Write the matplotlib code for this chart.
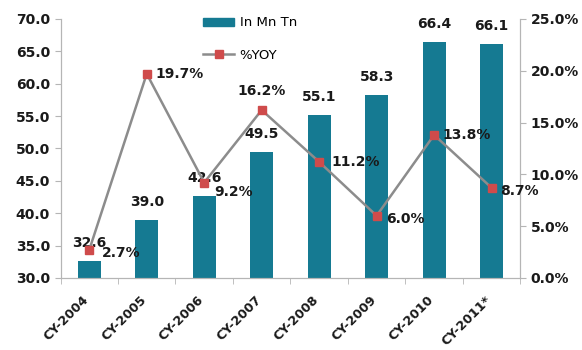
import matplotlib.pyplot as plt
import matplotlib.transforms as mtransforms
import numpy as np
from matplotlib.lines import Line2D
from matplotlib.patches import Patch

# data
years = ['CY-2004', 'CY-2005', 'CY-2006', 'CY-2007', 'CY-2008', 'CY-2009', 'CY-2010', 'CY-2011*']
volume = [32.6, 39.0, 42.6, 49.5, 55.1, 58.3, 66.4, 66.1]   # In Mn Tn
yoy = [2.7, 19.7, 9.2, 16.2, 11.2, 6.0, 13.8, 8.7]           # %YOY

bar_col = '#157a92'
line_col = '#8c8c8c'
mark_col = '#cf4b4b'
axis_col = '#b5b5b5'
txt_col = '#1a1a1a'

fig = plt.figure(figsize=(5.82, 3.5), dpi=100)
ax = fig.add_axes([0.104, 0.206, 0.79, 0.74])
ax2 = ax.twinx()

x = np.arange(len(years))
ax.bar(x, volume, width=0.4, color=bar_col, zorder=2)
ax.set_ylim(30, 70)
ax.set_xlim(-0.5, len(years) - 0.5)
ax.set_yticks(np.arange(30, 71, 5))
ax.set_yticklabels(['%.1f' % v for v in np.arange(30, 71, 5)])

for xi, v in zip(x, volume):
    ax.annotate('%.1f' % v, (xi, v), xytext=(0, 8), textcoords='offset points',
                ha='center', va='bottom', fontsize=10, fontweight='bold', color=txt_col)

ax2.plot(x, yoy, color=line_col, lw=1.8, marker='s', markersize=6,
         markerfacecolor=mark_col, markeredgecolor=mark_col, zorder=3)
ax2.set_ylim(0, 25)
ax2.set_yticks(np.arange(0, 26, 5))
ax2.set_yticklabels(['%.1f%%' % v for v in np.arange(0, 26, 5)])

# offsets for the % labels (points), 16.2% sits on top of its marker
offs = [(9, -2), (6, 0), (7, -7), (0, 14), (9, 0), (7, -2), (6, 0), (6, -2)]
for i, (xi, v, o) in enumerate(zip(x, yoy, offs)):
    ax2.annotate('%.1f%%' % v, (xi, v), xytext=o, textcoords='offset points',
                 ha='center' if i == 3 else 'left', va='center',
                 fontsize=10, fontweight='bold', color=txt_col)

ax.set_xticks(np.arange(-0.5, len(years), 1), minor=True)
ax.set_xticks(x)
ax.set_xticklabels(years, rotation=45, ha='right', rotation_mode='anchor',
                   fontsize=9.2, fontweight='bold', color=txt_col)
ax.tick_params(axis='x', which='major', length=0, pad=11)
ax.tick_params(axis='x', which='minor', length=4, color=axis_col)
shift = mtransforms.ScaledTranslation(-5 / 72, 0, fig.dpi_scale_trans)
for lab in ax.get_xticklabels():
    lab.set_transform(lab.get_transform() + shift)

for a in (ax, ax2):
    a.spines['top'].set_visible(False)
    for s in ('left', 'right', 'bottom'):
        a.spines[s].set_color(axis_col)
    a.tick_params(axis='y', length=4, color=axis_col, labelsize=10, labelcolor=txt_col)
for lab in ax.get_yticklabels() + ax2.get_yticklabels():
    lab.set_fontweight('bold')

handles = [Patch(color=bar_col, label='In Mn Tn'),
           Line2D([], [], color=line_col, lw=1.8, marker='s', markersize=6,
                  markerfacecolor=mark_col, markeredgecolor=mark_col, label='%YOY')]
fig.legend(handles=handles, loc='upper left', bbox_to_anchor=(0.328, 0.987),
           frameon=False, fontsize=9.5, labelspacing=1.45, handlelength=2.4,
           handleheight=0.5, handletextpad=0.4)

plt.savefig('out.png', dpi=100)
